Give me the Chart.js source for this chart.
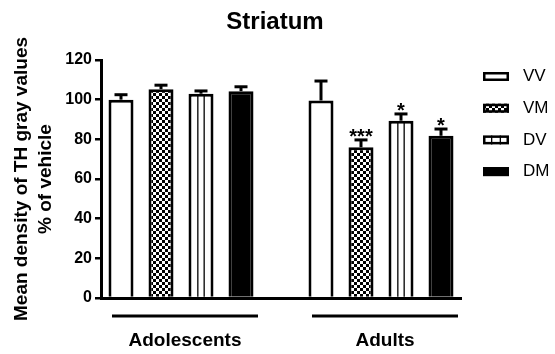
<!DOCTYPE html>
<html><head><meta charset="utf-8">
<script src="https://cdn.jsdelivr.net/npm/chart.js@4"></script>
<style>html,body{margin:0;padding:0;background:#fff}</style>
</head><body>
<canvas id="c" width="555" height="354"></canvas>
<script>
// ---- data ----
const series = ['VV', 'VM', 'DV', 'DM'];
const groups = ['Adolescents', 'Adults'];
const adolescentMeans = [100, 105.3, 103, 104.3];
const adolescentErrors = [2.5, 2.0, 1.4, 2.2];
const adultMeans = [99.6, 76, 89.4, 81.8];
const adultErrors = [9.8, 3.7, 3.4, 3.4];
const adolescentStars = ['', '', '', ''];
const adultStars = ['', '***', '*', '*'];
const yTicks = [0, 20, 40, 60, 80, 100, 120];
const yTitle = ['Mean density of TH gray values', '% of vehicle'];
const chartTitle = 'Striatum';

const FONT = "'Liberation Sans', Arial, Helvetica, sans-serif";

// slots: 4 adolescent bars, one empty slot, 4 adult bars
const slots = [...series, '', ...series];
const adultOffset = series.length + 1;

function checkerPattern() {
  const c = document.createElement('canvas');
  c.width = 6; c.height = 6;
  const g = c.getContext('2d');
  g.fillStyle = '#fff'; g.fillRect(0, 0, 6, 6);
  g.fillStyle = '#000'; g.fillRect(0, 0, 3, 3); g.fillRect(3, 3, 3, 3);
  return g.createPattern(c, 'repeat');
}
const checker = checkerPattern();
const fills = ['#ffffff', checker, '#ffffff', '#000000'];

const datasets = series.map((name, i) => {
  const data = slots.map(() => null);
  const errors = slots.map(() => null);
  const stars = slots.map(() => '');
  data[i] = adolescentMeans[i]; errors[i] = adolescentErrors[i]; stars[i] = adolescentStars[i];
  data[adultOffset + i] = adultMeans[i]; errors[adultOffset + i] = adultErrors[i]; stars[adultOffset + i] = adultStars[i];
  return {
    label: name, data, errors, stars,
    backgroundColor: fills[i], borderColor: '#000', borderWidth: 3, borderSkipped: 'start',
    categoryPercentage: 1, barPercentage: 0.625, grouped: false
  };
});

const deco = {
  id: 'deco',
  afterDatasetsDraw(chart) {
    const ctx = chart.ctx, ys = chart.scales.y;
    ctx.save();
    // vertical stripes for DV
    const dvIdx = series.indexOf('DV');
    chart.getDatasetMeta(dvIdx).data.forEach((bar, i) => {
      if (chart.data.datasets[dvIdx].data[i] == null) return;
      const p = bar.getProps(['x', 'y', 'base', 'width'], true);
      const l = p.x - p.width / 2 + 3, r = p.x + p.width / 2 - 3;
      ctx.strokeStyle = '#000'; ctx.lineWidth = 1.3;
      for (let k = 1; k <= 2; k++) {
        const xx = l + (r - l) * k / 3;
        ctx.beginPath(); ctx.moveTo(xx, p.y + 2); ctx.lineTo(xx, p.base); ctx.stroke();
      }
    });
    // error bars + stars
    chart.data.datasets.forEach((ds, di) => {
      chart.getDatasetMeta(di).data.forEach((bar, i) => {
        const v = ds.data[i];
        if (v == null) return;
        const p = bar.getProps(['x', 'y'], true);
        const top = ys.getPixelForValue(v + ds.errors[i]);
        ctx.strokeStyle = '#000'; ctx.lineWidth = 3; ctx.lineCap = 'butt';
        ctx.beginPath(); ctx.moveTo(p.x, p.y); ctx.lineTo(p.x, top); ctx.stroke();
        ctx.beginPath(); ctx.moveTo(p.x - 6.5, top); ctx.lineTo(p.x + 6.5, top); ctx.stroke();
        if (ds.stars[i]) {
          ctx.fillStyle = '#000'; ctx.font = 'bold 20px ' + FONT;
          ctx.textAlign = 'center'; ctx.textBaseline = 'alphabetic';
          ctx.fillText(ds.stars[i], p.x, top + 3);
        }
      });
    });
    ctx.restore();
  },
  afterDraw(chart) {
    const ctx = chart.ctx, xs = chart.scales.x;
    ctx.save();
    // title
    ctx.fillStyle = '#000';
    ctx.font = 'bold 24px ' + FONT;
    ctx.textAlign = 'center'; ctx.textBaseline = 'alphabetic';
    ctx.fillText(chartTitle, 275, 29);
    // group lines + labels
    groups.forEach((g, gi) => {
      const first = gi * adultOffset, last = first + series.length - 1;
      const c = (xs.getPixelForValue(first) + xs.getPixelForValue(last)) / 2 + 4;
      ctx.strokeStyle = '#000'; ctx.lineWidth = 3;
      ctx.beginPath(); ctx.moveTo(c - 73, 316); ctx.lineTo(c + 73, 316); ctx.stroke();
      ctx.font = 'bold 19px ' + FONT;
      ctx.textAlign = 'center'; ctx.textBaseline = 'alphabetic';
      ctx.fillText(g, c, 346);
    });
    // legend
    chart.data.datasets.forEach((ds, i) => {
      const yc = 76.5 + 31.7 * i;
      const bx = 483, bw = 26, bh = 9;
      ctx.fillStyle = ds.backgroundColor;
      ctx.fillRect(bx, yc - bh / 2, bw, bh);
      if (ds.label === 'DV') {
        ctx.strokeStyle = '#000'; ctx.lineWidth = 1.3;
        for (let k = 1; k <= 2; k++) {
          const xx = bx + bw * k / 3;
          ctx.beginPath(); ctx.moveTo(xx, yc - bh / 2); ctx.lineTo(xx, yc + bh / 2); ctx.stroke();
        }
      }
      ctx.strokeStyle = '#000'; ctx.lineWidth = 2.5;
      ctx.strokeRect(bx + 1.25, yc - bh / 2 + 1.25, bw - 2.5, bh - 2.5);
      ctx.fillStyle = '#000';
      ctx.font = '17px ' + FONT;
      ctx.textAlign = 'left'; ctx.textBaseline = 'middle';
      ctx.fillText(ds.label, 523, yc);
    });
    ctx.restore();
  }
};

new Chart(document.getElementById('c'), {
  type: 'bar',
  data: { labels: slots, datasets },
  options: {
    responsive: false, animation: false, devicePixelRatio: 1,
    layout: { padding: { top: 60, right: 94, left: 0, bottom: 0 } },
    plugins: { legend: { display: false }, tooltip: { enabled: false }, title: { display: false } },
    scales: {
      x: {
        ticks: { display: false },
        grid: { display: true, drawOnChartArea: false, drawTicks: false },
        border: { display: true, color: '#000', width: 3 },
        afterFit: s => { s.height = 56; }
      },
      y: {
        min: 0, max: 120,
        afterBuildTicks: s => { s.ticks = yTicks.map(v => ({ value: v })); },
        ticks: { color: '#000', font: { family: FONT, size: 16, weight: 'bold' }, padding: 3 },
        grid: { drawOnChartArea: false, drawTicks: true, tickLength: 6, color: '#000', lineWidth: 2.5 },
        border: { display: true, color: '#000', width: 3 },
        title: {
          display: true, text: yTitle, color: '#000',
          font: { family: FONT, size: 19, weight: 'bold', lineHeight: 1.26 },
          padding: { top: 9.5, bottom: 0 }
        },
        afterFit: s => { s.width = 101; }
      }
    }
  },
  plugins: [deco]
});
</script>
</body></html>
